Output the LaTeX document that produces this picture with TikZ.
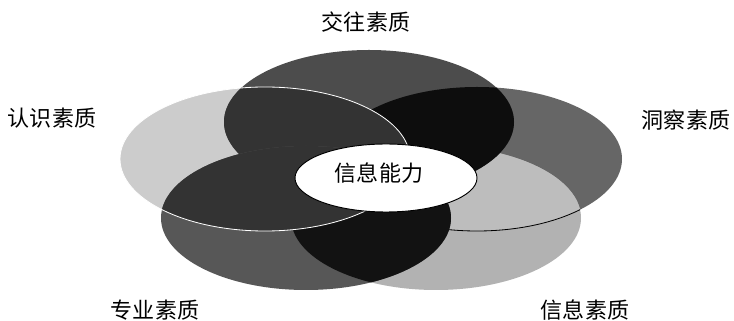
\documentclass[tikz,border=0pt]{standalone}
\usepackage{fontspec}
\newfontfamily\cjk{Noto Sans CJK SC}
\usepackage{tikz}
\tikzset{
  lab/.style={font=\cjk\fontsize{18.8}{22}\selectfont, text=black, inner sep=0pt},
  core/.style={fill=white, draw=black, line width=0.8pt},
  seam/.style={draw=white, line width=0.7pt},
  rim/.style={draw=black, line width=0.7pt},
}
% the five rings, pixel units
\newcommand\ringT{(369,122) ellipse [x radius=145, y radius=72]}
\newcommand\ringL{(265,159) ellipse [x radius=145, y radius=72]}
\newcommand\ringR{(477,159) ellipse [x radius=145, y radius=72]}
\newcommand\ringBL{(306,218) ellipse [x radius=145, y radius=72]}
\newcommand\ringBR{(436,218) ellipse [x radius=145, y radius=72]}

\begin{document}
\begin{tikzpicture}[x=0.03cm, y=-0.03cm]
  \useasboundingbox (0,0) rectangle (734,321);

  \fill[black!20] \ringL;
  \fill[black!60] \ringR;
  \fill[black!30] \ringBR;
  \begin{scope}
    \clip \ringBR;
    \fill[black!26] \ringR;
    \draw[rim] \ringR;
  \end{scope}

  \fill[black!70] \ringT;
  \begin{scope}
    \clip \ringT;
    \fill[black!95] \ringR;
    \fill[black!80] \ringL;
  \end{scope}

  \fill[black!66] \ringBL;
  \begin{scope}
    \clip \ringBL;
    \fill[black!93] \ringBR;
    \fill[black!80] \ringL;
  \end{scope}
  \draw[seam] \ringL;

  \draw[core] (386,178) ellipse [x radius=91, y radius=34];
  \node[lab] (ability) at (379,173) {信息能力};

  \node[lab] (contact) at (366,22) {交往素质};
  \node[lab] (cognize) at (52,118) {认识素质};
  \node[lab] (insight) at (686,120) {洞察素质};
  \node[lab] (major) at (155,310) {专业素质};
  \node[lab] (inform) at (585,310) {信息素质};
\end{tikzpicture}
\end{document}
